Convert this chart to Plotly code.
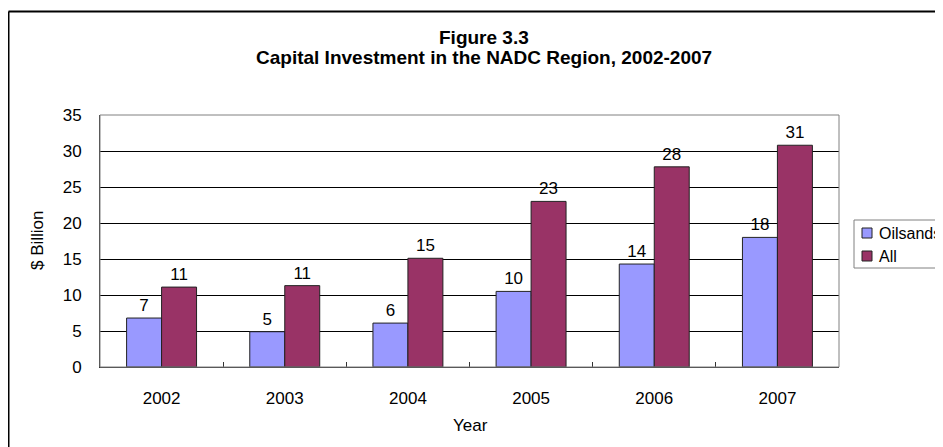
import plotly.graph_objects as go

years = ["2002", "2003", "2004", "2005", "2006", "2007"]
oilsands = [6.8, 4.9, 6.1, 10.5, 14.3, 18.0]
all_sectors = [11.1, 11.3, 15.1, 23.0, 27.8, 30.8]
oilsands_labels = ["7", "5", "6", "10", "14", "18"]
all_labels = ["11", "11", "15", "23", "28", "31"]
series_names = ["Oilsands", "All"]
series_colors = ["#9999FF", "#993366"]

FONT = "Liberation Sans, Arial, sans-serif"

fig = go.Figure()

for name, vals, labels, color in zip(series_names, [oilsands, all_sectors],
                                     [oilsands_labels, all_labels], series_colors):
    fig.add_trace(go.Bar(
        x=years, y=vals, name=name,
        marker=dict(color=color, line=dict(color="#222222", width=1)),
        text=labels, textposition="outside", constraintext="none",
        textfont=dict(size=17, color="black"), cliponaxis=False,
    ))

# target plot-area geometry in screen pixels; the page body adds an 8px margin
PAGE = 8
W, H = 943, 447
L, R, T, B = 100, 839, 115, 367
pw, ph = R - L, B - T
def px(x): return (x - L) / pw
def py(y): return (B - y) / ph

shapes = [
    # plot area frame
    dict(type="rect", xref="paper", yref="paper", x0=0, x1=1, y0=0, y1=1,
         line=dict(color="#808080", width=1), layer="above"),
    # outer chart border (cropped on the right and bottom)
    dict(type="line", xref="paper", yref="paper", x0=px(8.5), x1=px(960),
         y0=py(11.5), y1=py(11.5), line=dict(color="black", width=2)),
    dict(type="line", xref="paper", yref="paper", x0=px(8.5), x1=px(8.5),
         y0=py(11.5), y1=py(470), line=dict(color="black", width=2)),
    # legend box (runs off the right edge, as in the original)
    dict(type="rect", xref="paper", yref="paper", x0=px(854), x1=px(960),
         y0=py(268), y1=py(220), line=dict(color="#808080", width=1), fillcolor="white"),
]

annotations = [
    dict(text="<b>Figure 3.3</b>", x=px(484), y=py(37)),
    dict(text="<b>Capital Investment in the NADC Region, 2002-2007</b>", x=px(484), y=py(58)),
    dict(text="Year", x=px(470), y=py(425), font=dict(size=17)),
    dict(text="$ Billion", x=px(37), y=py(240), textangle=-90, font=dict(size=17)),
]
for a in annotations:
    a.update(xref="paper", yref="paper", showarrow=False, xanchor="center", yanchor="middle")
    a.setdefault("font", dict(size=19))
    a["font"].update(family=FONT, color="black")

# legend entries
for i, (name, color) in enumerate(zip(series_names, series_colors)):
    yc = 233 + 23 * i
    shapes.append(dict(type="rect", xref="paper", yref="paper",
                       x0=px(862), x1=px(872), y0=py(yc + 5), y1=py(yc - 5),
                       fillcolor=color, line=dict(color="#222222", width=1)))
    annotations.append(dict(text=name, xref="paper", yref="paper", x=px(877), y=py(yc),
                            xanchor="left", yanchor="middle", showarrow=False,
                            font=dict(size=16, family=FONT, color="black")))

fig.update_layout(
    width=W - PAGE, height=H - PAGE,
    margin=dict(l=L - PAGE, r=W - R, t=T - PAGE, b=H - B, autoexpand=False),
    paper_bgcolor="white", plot_bgcolor="white",
    barmode="group", bargap=0.432, bargroupgap=0,
    font=dict(family=FONT, size=17, color="black"),
    showlegend=False,
    shapes=shapes, annotations=annotations,
    xaxis=dict(type="category", showline=True, linecolor="#333333", linewidth=1,
               ticks="inside", tickson="boundaries", ticklen=5, tickcolor="#333333",
               ticklabelstandoff=16, showgrid=False, tickfont=dict(size=17)),
    yaxis=dict(range=[0, 35], dtick=5, showline=True, linecolor="#333333", linewidth=1,
               showgrid=True, gridcolor="black", gridwidth=1, zeroline=False,
               ticks="", ticklabelstandoff=14, tickfont=dict(size=17)),
)

fig.write_html("out.html")
